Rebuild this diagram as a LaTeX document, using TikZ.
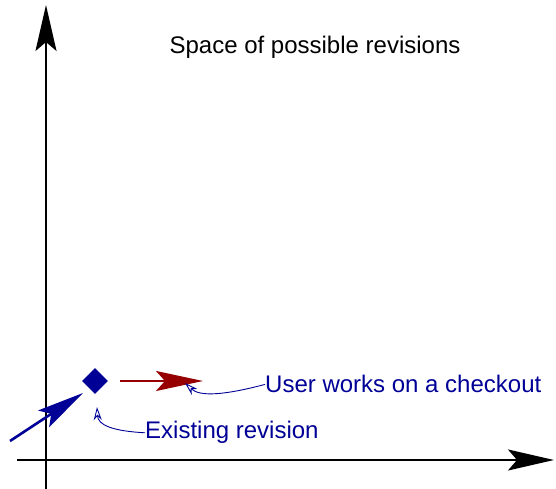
\documentclass[tikz,border=0pt]{standalone}
\usepackage{fontspec}
\setmainfont{Liberation Sans}
\usetikzlibrary{arrows.meta, shapes.geometric}
\definecolor{revblue}{RGB}{0,0,150}
\definecolor{revred}{RGB}{150,0,0}
\tikzset{
	axis/.style={line width=2pt, -{Stealth[length=46pt, width=21pt, inset=9pt]}},
	move/.style={line width=2.6pt, -{Stealth[length=47pt, width=20pt, inset=9pt]}},
	revision/.style={diamond, fill=revblue, inner sep=0pt, minimum width=26pt, minimum height=26pt},
	% text labels, left edge at the given point
	note/.style={inner sep=0pt, text=revblue, font=\fontsize{24}{28}\selectfont},
	pointer/.style={revblue, line width=0.9pt, -{Stealth[open, length=13pt, width=8pt, inset=4pt]}},
}

\begin{document}
\begin{tikzpicture}[x=1pt, y=1pt]
	\useasboundingbox (0,0) rectangle (556,489);
	
	\coordinate (ybottom) at (46,0);
	\coordinate (ytop) at (46,484);
	\coordinate (xleft) at (17,29);
	\coordinate (xright) at (554,29);
	
	\node (space) [anchor=base, inner sep=0pt, font=\fontsize{24}{28}\selectfont] at (315,435) {Space of possible revisions};
	
	\node (rev) [revision] at (95,108) {};
	\coordinate (parent) at (10,48);
	\coordinate (arrival) at (83,96);
	\coordinate (costart) at (120,108);
	\coordinate (coend) at (203,108);
	
	\node (user) [note, anchor=base west] at (265,96) {User works on a checkout};
	\node (exist) [note, anchor=base west] at (145,50) {Existing revision};
	\coordinate (headtip) at (185,106);
	\coordinate (revtip) at (97,82);
	
	\begin{scope}[black]
		\draw[axis] (ybottom) -- (ytop);
		\draw[axis] (xleft) -- (xright);
	\end{scope}
	
	\draw[move, revblue] (parent) -- (arrival);
	\draw[move, revred] (costart) -- (coend);
	
	\draw[pointer] (user.west) .. controls (225,94) and (200,92) .. (headtip);
	\draw[pointer] (exist.west) .. controls (112,58) and (98,64) .. (revtip);
	
\end{tikzpicture}
\end{document}
